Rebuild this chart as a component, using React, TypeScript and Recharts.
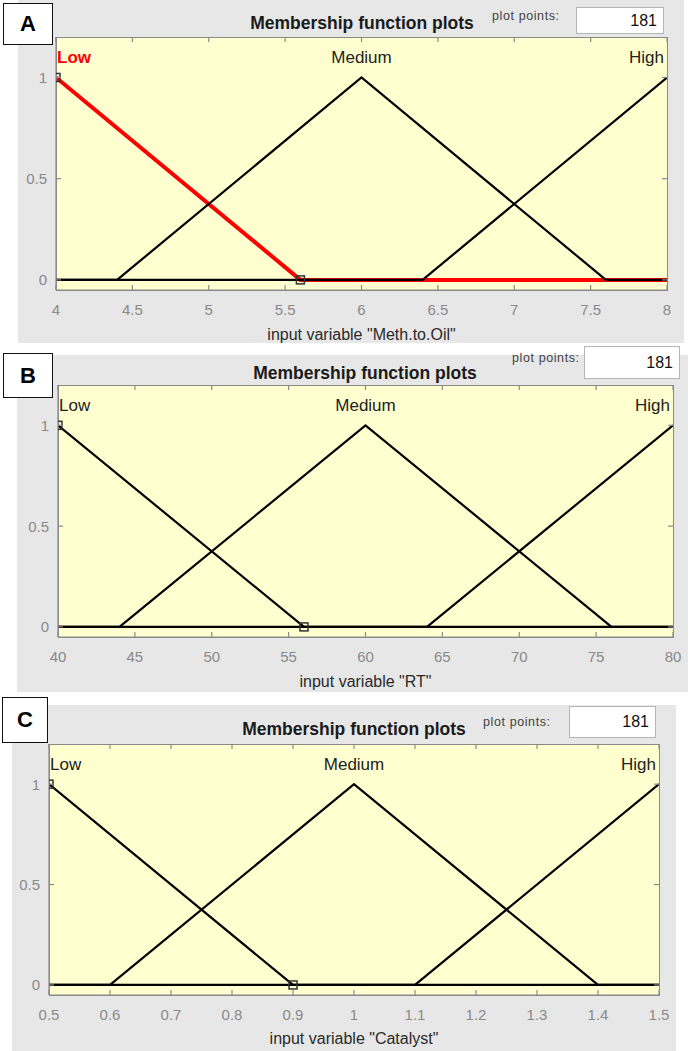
import React from 'react';
import { ComposedChart, Line, XAxis, YAxis, Label } from 'recharts';

const FONT = '"Liberation Sans", Arial, Helvetica, sans-serif';

// ---------- data ----------
const mfNames = ['Low', 'Medium', 'High'];
const yTicks = [0, 0.5, 1];
const yDomain = [-0.05, 1.2];
const labelLevel = 1.1;

// A: Meth.to.Oil
const methTicks = [4, 4.5, 5, 5.5, 6, 6.5, 7, 7.5, 8];
const methLow = [{ x: 4, y: 1 }, { x: 5.6, y: 0 }, { x: 8, y: 0 }];
const methMedium = [{ x: 4, y: 0 }, { x: 4.4, y: 0 }, { x: 6, y: 1 }, { x: 7.6, y: 0 }, { x: 8, y: 0 }];
const methHigh = [{ x: 4, y: 0 }, { x: 6.4, y: 0 }, { x: 8, y: 1 }];
const methMarkers = [{ x: 4, y: 1 }, { x: 5.6, y: 0 }];
const methLabelX = [4, 6, 8];

// B: RT
const rtTicks = [40, 45, 50, 55, 60, 65, 70, 75, 80];
const rtLow = [{ x: 40, y: 1 }, { x: 56, y: 0 }, { x: 80, y: 0 }];
const rtMedium = [{ x: 40, y: 0 }, { x: 44, y: 0 }, { x: 60, y: 1 }, { x: 76, y: 0 }, { x: 80, y: 0 }];
const rtHigh = [{ x: 40, y: 0 }, { x: 64, y: 0 }, { x: 80, y: 1 }];
const rtMarkers = [{ x: 40, y: 1 }, { x: 56, y: 0 }];
const rtLabelX = [40, 60, 80];

// C: Catalyst
const catTicks = [0.5, 0.6, 0.7, 0.8, 0.9, 1, 1.1, 1.2, 1.3, 1.4, 1.5];
const catLow = [{ x: 0.5, y: 1 }, { x: 0.9, y: 0 }, { x: 1.5, y: 0 }];
const catMedium = [{ x: 0.5, y: 0 }, { x: 0.6, y: 0 }, { x: 1, y: 1 }, { x: 1.4, y: 0 }, { x: 1.5, y: 0 }];
const catHigh = [{ x: 0.5, y: 0 }, { x: 1.1, y: 0 }, { x: 1.5, y: 1 }];
const catMarkers = [{ x: 0.5, y: 1 }, { x: 0.9, y: 0 }];
const catLabelX = [0.5, 1, 1.5];

const plotPoints = '181';

// ---------- layout ----------
const panels = [
  {
    letter: 'A', varName: 'Meth.to.Oil', ticks: methTicks, mfs: [methLow, methMedium, methHigh],
    markers: methMarkers, labelX: methLabelX, selected: 0,
    chartTop: 0, chartH: 345, plot: { l: 56, r: 667, t: 37, b: 290 },
    bg: { x: 18, y: 0, w: 666, h: 343 }, box: { x: 3, y: 3, w: 50, h: 42 },
    title: { cx: 362, cy: 23 }, pp: { x: 492, cy: 16 }, ppBox: { x: 576, y: 7, w: 88, h: 27 }, xLabelOffset: 5,
  },
  {
    letter: 'B', varName: 'RT', ticks: rtTicks, mfs: [rtLow, rtMedium, rtHigh],
    markers: rtMarkers, labelX: rtLabelX, selected: -1,
    chartTop: 345, chartH: 350, plot: { l: 58, r: 673, t: 385, b: 637 },
    bg: { x: 17, y: 355, w: 671, h: 337 }, box: { x: 3, y: 353, w: 50, h: 45 },
    title: { cx: 365, cy: 373 }, pp: { x: 512, cy: 358 }, ppBox: { x: 584, y: 346, w: 96, h: 33 }, xLabelOffset: 8,
  },
  {
    letter: 'C', varName: 'Catalyst', ticks: catTicks, mfs: [catLow, catMedium, catHigh],
    markers: catMarkers, labelX: catLabelX, selected: -1,
    chartTop: 695, chartH: 356, plot: { l: 49, r: 659, t: 744, b: 995 },
    bg: { x: 12, y: 705, w: 664, h: 346 }, box: { x: 2, y: 697, w: 46, h: 46 },
    title: { cx: 354, cy: 729 }, pp: { x: 483, cy: 722 }, ppBox: { x: 569, y: 706, w: 87, h: 32 }, xLabelOffset: 7,
  },
];

const W = 692;
const AXIS = '#8a8a8a';
const TICK_LEN = 5;
const YAXIS_W = 40;

function SquareDot(p: any) {
  if (p.cx == null || p.cy == null) return null;
  return <rect key={`sq-${p.index}`} x={p.cx - 4} y={p.cy - 4} width={8} height={8} fill="none" stroke="#333" strokeWidth={1.5} />;
}

function Panel({ cfg }: { cfg: any }) {
  const { l, r, t, b } = cfg.plot;
  const top = t - cfg.chartTop;
  const bottom = b - cfg.chartTop;
  const domain = [cfg.ticks[0], cfg.ticks[cfg.ticks.length - 1]];
  const labels = mfNames.map((n, i) => ({ x: cfg.labelX[i], y: labelLevel, name: n }));

  const XTick = (p: any) => (
    <g key={`xt-${p.index}`}>
      <line x1={p.x} x2={p.x} y1={bottom} y2={bottom - TICK_LEN} stroke={AXIS} strokeWidth={1.2} />
      <line x1={p.x} x2={p.x} y1={top} y2={top + TICK_LEN} stroke={AXIS} strokeWidth={1.2} />
      <text x={p.x} y={bottom + 19} textAnchor="middle" dominantBaseline="central" fill="#8a8a8a" fontSize={15} fontFamily={FONT}>
        {String(p.payload.value)}
      </text>
    </g>
  );
  const YTick = (p: any) => (
    <g key={`yt-${p.index}`}>
      <line x1={l} x2={l + TICK_LEN} y1={p.y} y2={p.y} stroke={AXIS} strokeWidth={1.2} />
      <line x1={r} x2={r - TICK_LEN} y1={p.y} y2={p.y} stroke={AXIS} strokeWidth={1.2} />
      <text x={l - 9} y={p.y} textAnchor="end" dominantBaseline="central" fill="#8a8a8a" fontSize={15} fontFamily={FONT}>
        {String(p.payload.value)}
      </text>
    </g>
  );
  const LabelDot = (p: any) => {
    if (p.cx == null) return null;
    const i = p.index;
    const anchor = i === 0 ? 'start' : i === mfNames.length - 1 ? 'end' : 'middle';
    const dx = i === 0 ? 1 : i === mfNames.length - 1 ? -3 : 0;
    const sel = i === cfg.selected;
    return (
      <text key={`lb-${i}`} x={p.cx + dx} y={p.cy} textAnchor={anchor} dominantBaseline="central"
        fontSize={17} fontFamily={FONT} fontWeight={sel ? 'bold' : 'normal'} fill={sel ? '#ff0000' : '#222'}>
        {p.payload.name}
      </text>
    );
  };
  const abs = (x: number, y: number, w: number, h: number): React.CSSProperties => ({ position: 'absolute', left: x, top: y, width: w, height: h });
  return (
    <>
      <div style={{ ...abs(cfg.bg.x, cfg.bg.y, cfg.bg.w, cfg.bg.h), background: '#e7e7e7' }} />
      <div style={{ ...abs(cfg.box.x, cfg.box.y, cfg.box.w, cfg.box.h), background: '#fff', border: '1.5px solid #111', boxSizing: 'border-box', display: 'flex', alignItems: 'center', justifyContent: 'center', fontFamily: FONT, fontWeight: 'bold', fontSize: 22, color: '#000' }}>{cfg.letter}</div>
      <div style={{ position: 'absolute', left: cfg.title.cx - 150, top: cfg.title.cy - 11, width: 300, height: 22, lineHeight: '22px', textAlign: 'center', fontFamily: FONT, fontWeight: 'bold', fontSize: 17.5, color: '#1a1a1a', whiteSpace: 'nowrap' }}>Membership function plots</div>
      <div style={{ position: 'absolute', left: cfg.pp.x, top: cfg.pp.cy - 8, height: 16, lineHeight: '16px', fontFamily: FONT, fontSize: 12.5, letterSpacing: 0.6, color: '#444', whiteSpace: 'nowrap' }}>plot points:</div>
      <div style={{ ...abs(cfg.ppBox.x, cfg.ppBox.y, cfg.ppBox.w, cfg.ppBox.h), background: '#fff', border: '1px solid #b5b5b5', boxSizing: 'border-box', display: 'flex', alignItems: 'center', justifyContent: 'flex-end', paddingRight: 6, fontFamily: FONT, fontSize: 16, color: '#111' }}>{plotPoints}</div>
      <div style={{ ...abs(l, t, r - l + 1, b - t + 1), background: '#ffffd0', border: `1.2px solid ${AXIS}`, boxSizing: 'border-box' }} />
      <div style={{ position: 'absolute', left: 0, top: cfg.chartTop }}>
        <ComposedChart width={W} height={cfg.chartH} margin={{ top, right: W - r, left: l - YAXIS_W, bottom: 0 }}>
          <XAxis xAxisId="b" dataKey="x" type="number" domain={domain} ticks={cfg.ticks} interval={0} allowDataOverflow
            height={cfg.chartH - bottom} tickLine={false} stroke={AXIS} strokeWidth={1.2} tick={XTick}>
            <Label value={`input variable "${cfg.varName}"`} position="insideBottom" offset={cfg.xLabelOffset}
              style={{ fill: '#2a2a2a', fontSize: 16, fontFamily: FONT }} />
          </XAxis>
          <YAxis yAxisId="l" dataKey="y" type="number" domain={yDomain} ticks={yTicks} interval={0} allowDataOverflow
            width={YAXIS_W} tickLine={false} stroke={AXIS} strokeWidth={1.2} tick={YTick} />
          {cfg.mfs.map((mf: any, i: number) => (
            i === cfg.selected ? (
              <Line key={`mf-${i}`} xAxisId="b" yAxisId="l" data={mf} dataKey="y" type="linear" stroke="#ff0000" strokeWidth={4}
                dot={false} activeDot={false} isAnimationActive={false} />
            ) : null
          ))}
          {cfg.mfs.map((mf: any, i: number) => (
            i !== cfg.selected ? (
              <Line key={`mfb-${i}`} xAxisId="b" yAxisId="l" data={mf} dataKey="y" type="linear" stroke="#000" strokeWidth={2.2}
                dot={false} activeDot={false} isAnimationActive={false} />
            ) : null
          ))}
          <Line xAxisId="b" yAxisId="l" data={cfg.markers} dataKey="y" type="linear" stroke="none"
            dot={SquareDot} activeDot={false} isAnimationActive={false} />
          <Line xAxisId="b" yAxisId="l" data={labels} dataKey="y" type="linear" stroke="none"
            dot={LabelDot} activeDot={false} isAnimationActive={false} />
        </ComposedChart>
      </div>
    </>
  );
}

export default function App() {
  return (
    <div style={{ position: 'absolute', left: 0, top: 0, width: W, height: 1051, background: '#fff', overflow: 'hidden' }}>
      {panels.map((p) => <Panel key={p.letter} cfg={p} />)}
    </div>
  );
}
